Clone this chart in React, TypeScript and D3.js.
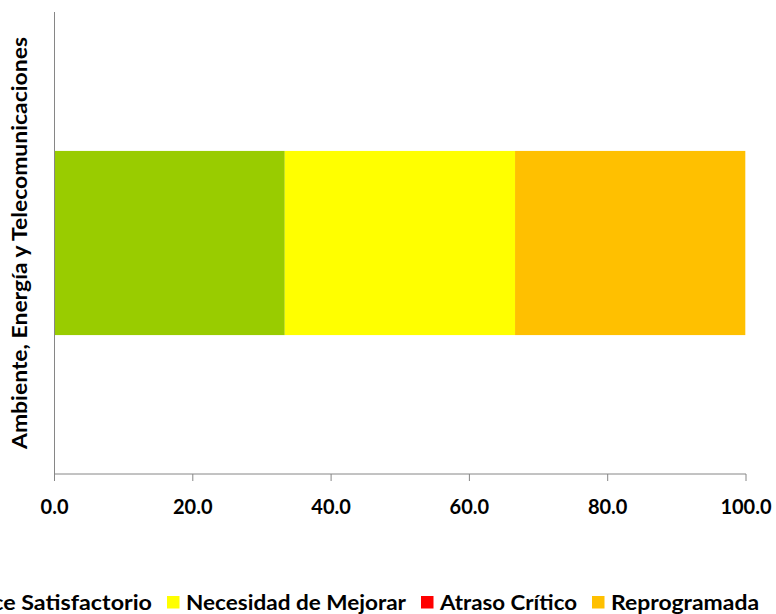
import React from "react";
import * as d3 from "d3";

const categories = ["Ambiente, Energía y Telecomunicaciones"];
const seriesNames = [
  "Avance Satisfactorio",
  "Necesidad de Mejorar",
  "Atraso Crítico",
  "Reprogramada",
];
const satisfactorio = [33.3];
const mejorar = [33.3];
const atraso = [0];
const reprogramada = [33.3];
const xTicks = [0, 20, 40, 60, 80, 100];

const colors = ["#99CC00", "#FFFF00", "#FF0000", "#FFC000"];
const font = "Lato, 'Open Sans', sans-serif";
// measured widths of legend labels in the reference
const legendWidths = [212, 220, 137, 148];

const App = () => {
  const width = 776;
  const height = 614;
  const plot = { left: 54.5, right: 746, top: 12, bottom: 474 };

  const table = categories.map((c, i) => ({
    category: c,
    [seriesNames[0]]: satisfactorio[i],
    [seriesNames[1]]: mejorar[i],
    [seriesNames[2]]: atraso[i],
    [seriesNames[3]]: reprogramada[i],
  }));
  const stacked = d3.stack<any>().keys(seriesNames)(table);

  const x = d3.scaleLinear().domain([0, 100]).range([plot.left, plot.right]);
  const y = d3
    .scaleBand()
    .domain(categories)
    .range([plot.top, plot.bottom])
    .padding(0.43);

  // legend layout: square, gap, label, gap, ...
  const sq = 12.5;
  const txtGap = 19;
  const itemGap = 15;
  const legendItems: { sx: number; tx: number; w: number }[] = [];
  let cursor = 167 - itemGap - legendWidths[0] - txtGap;
  seriesNames.forEach((_, i) => {
    legendItems.push({ sx: cursor, tx: cursor + txtGap, w: legendWidths[i] });
    cursor += txtGap + legendWidths[i] + itemGap;
  });

  return (
    <svg
      width={width}
      height={height}
      style={{ position: "absolute", left: 0, top: 0, background: "#fff" }}
      fontFamily={font}
    >
      {stacked.map((s, i) =>
        s.map((d, j) => (
          <rect
            key={seriesNames[i] + j}
            x={x(d[0])}
            y={y(categories[j])}
            width={x(d[1]) - x(d[0])}
            height={y.bandwidth()}
            fill={colors[i]}
          />
        ))
      )}
      {/* axes */}
      <line
        x1={plot.left}
        x2={plot.left}
        y1={plot.top}
        y2={plot.bottom}
        stroke="#868686"
        strokeWidth={1}
      />
      <line
        x1={plot.left}
        x2={plot.right}
        y1={plot.bottom}
        y2={plot.bottom}
        stroke="#868686"
        strokeWidth={1}
      />
      {xTicks.map((t) => (
        <g key={t} transform={`translate(${x(t)},0)`}>
          <line y1={plot.bottom} y2={plot.bottom + 7} stroke="#868686" />
          <text
            y={514}
            textAnchor="middle"
            fontSize={20}
            fontWeight="bold"
            fill="#000"
          >
            {d3.format(".1f")(t)}
          </text>
        </g>
      ))}
      <text
        transform={`translate(27,${(plot.top + plot.bottom) / 2}) rotate(-90)`}
        textAnchor="middle"
        fontSize={20}
        fontWeight="bold"
        textLength={412}
        lengthAdjust="spacingAndGlyphs"
        fill="#000"
      >
        {categories[0]}
      </text>
      {/* legend */}
      {legendItems.map((l, i) => (
        <g key={seriesNames[i]}>
          <rect x={l.sx} y={596} width={sq} height={sq} fill={colors[i]} />
          <text
            x={l.tx}
            y={610}
            fontSize={20}
            fontWeight="bold"
            textLength={l.w}
            lengthAdjust="spacingAndGlyphs"
            fill="#000"
          >
            {seriesNames[i]}
          </text>
        </g>
      ))}
    </svg>
  );
};

export default App;
